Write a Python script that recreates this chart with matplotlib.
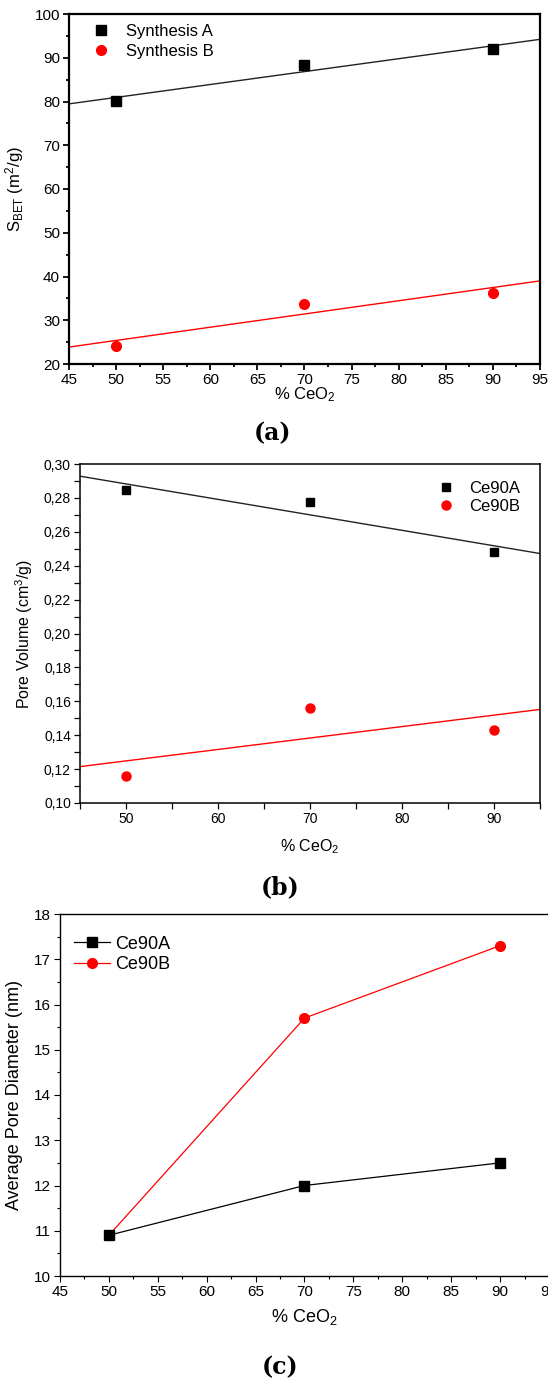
import numpy as np
import matplotlib
matplotlib.use("Agg")
import matplotlib.pyplot as plt
from matplotlib.ticker import MultipleLocator, FuncFormatter

plt.rcParams['font.family'] = ['Liberation Sans', 'DejaVu Sans']
plt.rcParams['mathtext.fontset'] = 'custom'
plt.rcParams['mathtext.rm'] = 'Liberation Sans'
plt.rcParams['mathtext.it'] = 'Liberation Sans:italic'

# % CeO2 in the samples
ceo2 = [50, 70, 90]

# surface area (m2/g)
sbet_a = [80.2, 88.3, 92.0]
sbet_b = [24.2, 33.8, 36.3]

# pore volume (cm3/g)
vol_a = [0.2845, 0.2775, 0.248]
vol_b = [0.116, 0.156, 0.143]

# average pore diameter (nm)
diam_a = [10.9, 12.0, 12.5]
diam_b = [10.9, 15.7, 17.3]

W, H = 548, 1383
fig = plt.figure(figsize=(W / 100, H / 100), dpi=100)


def box(l, t, r, b):
    return [l / W, 1 - b / H, (r - l) / W, (b - t) / H]


def fit_line(ax, x, y, color):
    k, c = np.polyfit(x, y, 1)
    xs = np.array([45, 95])
    ax.plot(xs, k * xs + c, color=color, lw=1.0, zorder=2)


def style(ax, lw, size):
    for s in ax.spines.values():
        s.set_linewidth(lw)
    ax.tick_params(which='both', direction='out', top=False, right=False,
                   labelsize=size, width=lw * 0.8, pad=2)
    ax.tick_params(which='major', length=4.5)
    ax.tick_params(which='minor', length=2.5)


xlab = '% CeO$_2$'

# (a) surface area
ax1 = fig.add_axes(box(69, 14, 540, 364))
ax1.plot(ceo2, sbet_a, 's', color='black', ms=6.5, label='Synthesis A', zorder=3)
ax1.plot(ceo2, sbet_b, 'o', color='red', ms=7, label='Synthesis B', zorder=3)
fit_line(ax1, ceo2, sbet_a, '#222222')
fit_line(ax1, ceo2, sbet_b, 'red')
ax1.set_xlim(45, 95)
ax1.set_ylim(20, 100)
ax1.xaxis.set_major_locator(MultipleLocator(5))
ax1.xaxis.set_minor_locator(MultipleLocator(2.5))
ax1.yaxis.set_major_locator(MultipleLocator(10))
ax1.yaxis.set_minor_locator(MultipleLocator(5))
style(ax1, 1.6, 11)
ax1.set_xlabel(xlab, fontsize=12, labelpad=-1)
ax1.set_ylabel('S$_{\\mathrm{BET}}$ (m$^2$/g)', fontsize=12, labelpad=6)
ax1.legend(loc='upper left', frameon=False, fontsize=12, handletextpad=0.5,
           bbox_to_anchor=(0.0, 1.015), labelspacing=0.3)
fig.text(273 / W, 1 - 433 / H, '(a)', ha='center', va='center',
         fontsize=17, fontweight='bold', family='DejaVu Serif')

# (b) pore volume
ax2 = fig.add_axes(box(80, 464, 540, 803))
ax2.plot(ceo2, vol_a, 's', color='black', ms=6, label='Ce90A', zorder=3)
ax2.plot(ceo2, vol_b, 'o', color='red', ms=6.5, label='Ce90B', zorder=3)
fit_line(ax2, ceo2, vol_a, '#222222')
fit_line(ax2, ceo2, vol_b, 'red')
ax2.set_xlim(45, 95)
ax2.set_ylim(0.10, 0.30)
ax2.xaxis.set_major_locator(MultipleLocator(10))
ax2.xaxis.set_minor_locator(MultipleLocator(5))
ax2.yaxis.set_major_locator(MultipleLocator(0.02))
ax2.yaxis.set_minor_locator(MultipleLocator(0.01))
ax2.yaxis.set_major_formatter(FuncFormatter(lambda v, p: f'{v:.2f}'.replace('.', ',')))
style(ax2, 1.1, 10)
ax2.tick_params(which='minor', length=4.5)
ax2.set_xlabel(xlab, fontsize=11.5, labelpad=8)
ax2.set_ylabel('Pore Volume (cm$^3$/g)', fontsize=11.5, labelpad=6)
ax2.legend(loc='upper right', frameon=False, fontsize=12, handletextpad=0.4,
           bbox_to_anchor=(0.99, 0.995), labelspacing=0.2)
fig.text(280 / W, 1 - 887 / H, '(b)', ha='center', va='center',
         fontsize=17, fontweight='bold', family='DejaVu Serif')

# (c) average pore diameter
ax3 = fig.add_axes(box(60, 914, 549, 1276))
ax3.plot(ceo2, diam_a, '-s', color='black', lw=0.9, ms=6.5, label='Ce90A', zorder=3)
ax3.plot(ceo2, diam_b, '-o', color='red', lw=0.9, ms=7, label='Ce90B', zorder=2)
ax3.set_xlim(45, 95)
ax3.set_ylim(10, 18)
ax3.xaxis.set_major_locator(MultipleLocator(5))
ax3.xaxis.set_minor_locator(MultipleLocator(2.5))
ax3.yaxis.set_major_locator(MultipleLocator(1))
ax3.yaxis.set_minor_locator(MultipleLocator(0.5))
style(ax3, 1.0, 11)
ax3.spines['right'].set_visible(False)
ax3.set_xlabel(xlab, fontsize=13, labelpad=6)
ax3.set_ylabel('Average Pore Diameter (nm)', fontsize=13, labelpad=8)
ax3.legend(loc='upper left', frameon=False, fontsize=13, handletextpad=0.3,
           handlelength=2.0, bbox_to_anchor=(-0.005, 0.985), labelspacing=0.2)
fig.text(280 / W, 1 - 1367 / H, '(c)', ha='center', va='center',
         fontsize=17, fontweight='bold', family='DejaVu Serif')

fig.savefig('out.png', dpi=100)
